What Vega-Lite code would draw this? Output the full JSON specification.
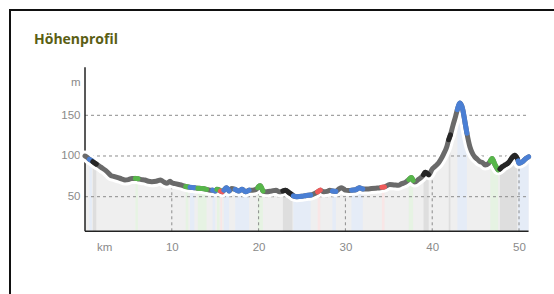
{
  "$schema": "https://vega.github.io/schema/vega-lite/v6.json",
  "autosize": "none",
  "padding": {"left": 10, "top": 10, "right": 0, "bottom": 0},
  "width": 560,
  "height": 300,
  "config": {"view": {"stroke": "#111111", "strokeWidth": 2}, "font": "Liberation Sans"},
  "datasets": {
    "profile": [
      {"km": 0.0, "elev": 100, "type": "gray", "seg": "g"},
      {"km": 0.3, "elev": 98, "type": "gray", "seg": "g"},
      {"km": 0.5, "elev": 96, "type": "blue", "seg": "s1"},
      {"km": 0.8, "elev": 94, "type": "blue", "seg": "s1"},
      {"km": 0.9, "elev": 93, "type": "black", "seg": "s2"},
      {"km": 1.3, "elev": 90, "type": "black", "seg": "s2"},
      {"km": 1.6, "elev": 88, "type": "gray", "seg": "g"},
      {"km": 2.0, "elev": 85, "type": "gray", "seg": "g"},
      {"km": 2.4, "elev": 82, "type": "gray", "seg": "g"},
      {"km": 2.7, "elev": 79, "type": "gray", "seg": "g"},
      {"km": 3.0, "elev": 76, "type": "gray", "seg": "g"},
      {"km": 3.3, "elev": 75, "type": "gray", "seg": "g"},
      {"km": 3.6, "elev": 74, "type": "gray", "seg": "g"},
      {"km": 3.9, "elev": 73, "type": "gray", "seg": "g"},
      {"km": 4.2, "elev": 72, "type": "gray", "seg": "g"},
      {"km": 4.6, "elev": 70.5, "type": "gray", "seg": "g"},
      {"km": 5.0, "elev": 71, "type": "gray", "seg": "g"},
      {"km": 5.4, "elev": 72.5, "type": "gray", "seg": "g"},
      {"km": 5.8, "elev": 72.5, "type": "green", "seg": "s3"},
      {"km": 6.1, "elev": 72, "type": "green", "seg": "s3"},
      {"km": 6.5, "elev": 71, "type": "gray", "seg": "g"},
      {"km": 6.9, "elev": 70.5, "type": "gray", "seg": "g"},
      {"km": 7.3, "elev": 69, "type": "gray", "seg": "g"},
      {"km": 7.7, "elev": 68.5, "type": "gray", "seg": "g"},
      {"km": 8.2, "elev": 69, "type": "gray", "seg": "g"},
      {"km": 8.7, "elev": 70.5, "type": "gray", "seg": "g"},
      {"km": 9.1, "elev": 68, "type": "gray", "seg": "g"},
      {"km": 9.45, "elev": 66.5, "type": "gray", "seg": "g"},
      {"km": 9.8, "elev": 69, "type": "gray", "seg": "g"},
      {"km": 10.0, "elev": 67, "type": "gray", "seg": "g"},
      {"km": 10.4, "elev": 66, "type": "gray", "seg": "g"},
      {"km": 10.8, "elev": 65, "type": "gray", "seg": "g"},
      {"km": 11.2, "elev": 64, "type": "gray", "seg": "g"},
      {"km": 11.6, "elev": 62.5, "type": "green", "seg": "s4"},
      {"km": 11.9, "elev": 62, "type": "green", "seg": "s4"},
      {"km": 12.1, "elev": 61.5, "type": "blue", "seg": "s5"},
      {"km": 12.6, "elev": 61, "type": "blue", "seg": "s5"},
      {"km": 13.0, "elev": 60.5, "type": "green", "seg": "s6"},
      {"km": 13.5, "elev": 60, "type": "green", "seg": "s6"},
      {"km": 14.0, "elev": 59, "type": "green", "seg": "s6"},
      {"km": 14.4, "elev": 58, "type": "gray", "seg": "g"},
      {"km": 14.7, "elev": 58, "type": "blue", "seg": "s7"},
      {"km": 15.0, "elev": 57, "type": "blue", "seg": "s7"},
      {"km": 15.2, "elev": 59, "type": "green", "seg": "s8"},
      {"km": 15.5, "elev": 58, "type": "green", "seg": "s8"},
      {"km": 15.6, "elev": 57, "type": "red", "seg": "s9"},
      {"km": 15.8, "elev": 56, "type": "red", "seg": "s9"},
      {"km": 16.0, "elev": 58, "type": "blue", "seg": "s10"},
      {"km": 16.3, "elev": 61, "type": "blue", "seg": "s10"},
      {"km": 16.6, "elev": 57, "type": "blue", "seg": "s10"},
      {"km": 16.9, "elev": 60, "type": "gray", "seg": "g"},
      {"km": 17.3, "elev": 59, "type": "blue", "seg": "s11"},
      {"km": 17.7, "elev": 57, "type": "blue", "seg": "s11"},
      {"km": 18.1, "elev": 59, "type": "blue", "seg": "s11"},
      {"km": 18.5, "elev": 56, "type": "blue", "seg": "s11"},
      {"km": 18.9, "elev": 58, "type": "blue", "seg": "s11"},
      {"km": 19.3, "elev": 58, "type": "gray", "seg": "g"},
      {"km": 19.7, "elev": 59, "type": "gray", "seg": "g"},
      {"km": 19.9, "elev": 61, "type": "green", "seg": "s12"},
      {"km": 20.0, "elev": 62.5, "type": "green", "seg": "s12"},
      {"km": 20.2, "elev": 63.5, "type": "green", "seg": "s12"},
      {"km": 20.5, "elev": 57, "type": "green", "seg": "s12"},
      {"km": 20.9, "elev": 56, "type": "gray", "seg": "g"},
      {"km": 21.5, "elev": 57, "type": "gray", "seg": "g"},
      {"km": 22.0, "elev": 58, "type": "gray", "seg": "g"},
      {"km": 22.4, "elev": 56, "type": "gray", "seg": "g"},
      {"km": 22.8, "elev": 57, "type": "black", "seg": "s13"},
      {"km": 23.1, "elev": 58, "type": "black", "seg": "s13"},
      {"km": 23.5, "elev": 55, "type": "black", "seg": "s13"},
      {"km": 23.9, "elev": 52, "type": "black", "seg": "s13"},
      {"km": 24.0, "elev": 51, "type": "blue", "seg": "s14"},
      {"km": 24.4, "elev": 50, "type": "blue", "seg": "s14"},
      {"km": 25.0, "elev": 50.5, "type": "blue", "seg": "s14"},
      {"km": 25.5, "elev": 51.5, "type": "blue", "seg": "s14"},
      {"km": 26.0, "elev": 52, "type": "blue", "seg": "s14"},
      {"km": 26.4, "elev": 53.5, "type": "gray", "seg": "g"},
      {"km": 26.8, "elev": 56, "type": "red", "seg": "s15"},
      {"km": 27.1, "elev": 58, "type": "red", "seg": "s15"},
      {"km": 27.5, "elev": 56, "type": "gray", "seg": "g"},
      {"km": 27.9, "elev": 56.5, "type": "gray", "seg": "g"},
      {"km": 28.2, "elev": 58, "type": "gray", "seg": "g"},
      {"km": 28.5, "elev": 57, "type": "blue", "seg": "s16"},
      {"km": 28.9, "elev": 56.5, "type": "blue", "seg": "s16"},
      {"km": 29.2, "elev": 59, "type": "gray", "seg": "g"},
      {"km": 29.5, "elev": 61, "type": "gray", "seg": "g"},
      {"km": 29.8, "elev": 59.5, "type": "gray", "seg": "g"},
      {"km": 30.0, "elev": 58, "type": "gray", "seg": "g"},
      {"km": 30.4, "elev": 57.5, "type": "gray", "seg": "g"},
      {"km": 30.7, "elev": 58, "type": "blue", "seg": "s17"},
      {"km": 31.2, "elev": 58.5, "type": "blue", "seg": "s17"},
      {"km": 31.6, "elev": 61, "type": "blue", "seg": "s17"},
      {"km": 32.0, "elev": 59.5, "type": "blue", "seg": "s17"},
      {"km": 32.5, "elev": 59.5, "type": "gray", "seg": "g"},
      {"km": 33.0, "elev": 60, "type": "gray", "seg": "g"},
      {"km": 33.5, "elev": 60.5, "type": "gray", "seg": "g"},
      {"km": 34.0, "elev": 61, "type": "gray", "seg": "g"},
      {"km": 34.2, "elev": 61.5, "type": "red", "seg": "s18"},
      {"km": 34.5, "elev": 62, "type": "red", "seg": "s18"},
      {"km": 35.1, "elev": 65, "type": "gray", "seg": "g"},
      {"km": 35.6, "elev": 64.5, "type": "gray", "seg": "g"},
      {"km": 36.1, "elev": 64, "type": "gray", "seg": "g"},
      {"km": 36.5, "elev": 66, "type": "gray", "seg": "g"},
      {"km": 36.9, "elev": 67.5, "type": "gray", "seg": "g"},
      {"km": 37.3, "elev": 71, "type": "green", "seg": "s19"},
      {"km": 37.6, "elev": 73.5, "type": "green", "seg": "s19"},
      {"km": 37.8, "elev": 70, "type": "green", "seg": "s19"},
      {"km": 38.0, "elev": 68, "type": "gray", "seg": "g"},
      {"km": 38.4, "elev": 71, "type": "gray", "seg": "g"},
      {"km": 38.8, "elev": 74.5, "type": "gray", "seg": "g"},
      {"km": 39.0, "elev": 77, "type": "black", "seg": "s20"},
      {"km": 39.2, "elev": 80, "type": "black", "seg": "s20"},
      {"km": 39.6, "elev": 77, "type": "black", "seg": "s20"},
      {"km": 40.0, "elev": 84, "type": "gray", "seg": "g"},
      {"km": 40.3, "elev": 87, "type": "gray", "seg": "g"},
      {"km": 40.7, "elev": 91, "type": "gray", "seg": "g"},
      {"km": 41.0, "elev": 96, "type": "gray", "seg": "g"},
      {"km": 41.3, "elev": 102, "type": "gray", "seg": "g"},
      {"km": 41.7, "elev": 112, "type": "gray", "seg": "g"},
      {"km": 41.9, "elev": 120, "type": "black", "seg": "s21"},
      {"km": 42.1, "elev": 126, "type": "black", "seg": "s21"},
      {"km": 42.4, "elev": 138, "type": "gray", "seg": "g"},
      {"km": 42.7, "elev": 149, "type": "gray", "seg": "g"},
      {"km": 42.9, "elev": 157, "type": "blue", "seg": "s22"},
      {"km": 43.2, "elev": 165, "type": "blue", "seg": "s22"},
      {"km": 43.5, "elev": 158, "type": "blue", "seg": "s22"},
      {"km": 43.8, "elev": 140, "type": "blue", "seg": "s22"},
      {"km": 44.0, "elev": 128, "type": "blue", "seg": "s22"},
      {"km": 44.35, "elev": 111, "type": "gray", "seg": "g"},
      {"km": 44.7, "elev": 102, "type": "gray", "seg": "g"},
      {"km": 44.9, "elev": 99, "type": "gray", "seg": "g"},
      {"km": 45.2, "elev": 96, "type": "gray", "seg": "g"},
      {"km": 45.5, "elev": 93, "type": "gray", "seg": "g"},
      {"km": 45.8, "elev": 92, "type": "gray", "seg": "g"},
      {"km": 46.1, "elev": 89, "type": "gray", "seg": "g"},
      {"km": 46.5, "elev": 91, "type": "gray", "seg": "g"},
      {"km": 46.7, "elev": 94, "type": "green", "seg": "s23"},
      {"km": 46.9, "elev": 97, "type": "green", "seg": "s23"},
      {"km": 47.2, "elev": 90, "type": "green", "seg": "s23"},
      {"km": 47.6, "elev": 83, "type": "green", "seg": "s23"},
      {"km": 47.8, "elev": 84, "type": "black", "seg": "s24"},
      {"km": 48.1, "elev": 87, "type": "black", "seg": "s24"},
      {"km": 48.4, "elev": 89, "type": "black", "seg": "s24"},
      {"km": 48.8, "elev": 92, "type": "black", "seg": "s24"},
      {"km": 49.2, "elev": 98, "type": "black", "seg": "s24"},
      {"km": 49.5, "elev": 101, "type": "black", "seg": "s24"},
      {"km": 49.8, "elev": 97, "type": "black", "seg": "s24"},
      {"km": 49.9, "elev": 94, "type": "blue", "seg": "s25"},
      {"km": 50.0, "elev": 91, "type": "blue", "seg": "s25"},
      {"km": 50.4, "elev": 93, "type": "blue", "seg": "s25"},
      {"km": 50.8, "elev": 97, "type": "blue", "seg": "s25"},
      {"km": 51.1, "elev": 99, "type": "blue", "seg": "s25"}
    ],
    "grid": [{"v": 50}, {"v": 100}, {"v": 150}]
  },
  "layer": [
    {
      "data": {"name": "profile"},
      "mark": {"type": "area", "color": "#efefef", "interpolate": "monotone"},
      "encoding": {
        "x": {"field": "km", "type": "quantitative", "title": null,
          "scale": {"domain": [-8.641, 55.875], "nice": false, "zero": false},
          "axis": {"values": [2.2, 10, 20, 30, 40, 50], "labelExpr": "datum.value == 2.2 ? 'km' : datum.label",
            "offset": -79, "domain": false, "ticks": false, "grid": false, "labelColor": "#8a8a8a",
            "labelFontSize": 11.5, "labelPadding": 10, "labelFlush": false, "labelOverlap": false, "labelBound": false, "title": null}},
        "y": {"field": "elev", "type": "quantitative", "title": null,
          "scale": {"domain": [-89.19, 279.36], "nice": false, "zero": false},
          "axis": {"values": [50, 100, 150, 190], "labelExpr": "datum.value == 190 ? 'm' : datum.label",
            "offset": -75, "domain": false, "ticks": false, "grid": false, "labelColor": "#8a8a8a",
            "labelFontSize": 11.5, "labelPadding": 5, "labelFlush": false, "labelOverlap": false, "labelBound": false, "title": null}},
        "y2": {"datum": 7.5, "type": "quantitative"}
      }
    },
    {
      "data": {"name": "profile"},
      "transform": [{"filter": "datum.type != 'gray'"}],
      "mark": {"type": "area", "interpolate": "monotone"},
      "encoding": {
        "x": {"field": "km", "type": "quantitative", "title": null},
        "y": {"field": "elev", "type": "quantitative", "title": null, "stack": null},
        "y2": {"datum": 7.5, "type": "quantitative"},
        "detail": {"field": "seg", "type": "nominal"},
        "color": {"field": "type", "type": "nominal", "legend": null,
          "scale": {"domain": ["blue", "green", "red", "black"], "range": ["#e5ecf7", "#e6f3e3", "#f9e6e6", "#dedede"]}}
      }
    },
    {
      "data": {"name": "grid"},
      "mark": {"type": "rule", "color": "#8c8c8c", "strokeDash": [3, 3], "strokeWidth": 1},
      "encoding": {
        "y": {"field": "v", "type": "quantitative", "title": null},
        "x": {"datum": 0, "type": "quantitative"},
        "x2": {"datum": 51.1, "type": "quantitative"}
      }
    },
    {
      "data": {"name": "profile"},
      "transform": [{"filter": {"field": "km", "oneOf": [10, 20, 30, 40, 50]}}],
      "mark": {"type": "rule", "color": "#8c8c8c", "strokeDash": [3, 3], "strokeWidth": 1},
      "encoding": {
        "x": {"field": "km", "type": "quantitative", "title": null},
        "y": {"datum": 7.5, "type": "quantitative"},
        "y2": {"field": "elev", "type": "quantitative"}
      }
    },
    {
      "data": {"values": [{}]},
      "mark": {"type": "rule", "color": "#222222", "strokeWidth": 1.5},
      "encoding": {"x": {"datum": 0, "type": "quantitative"}, "x2": {"datum": 51.1, "type": "quantitative"}, "y": {"datum": 7.5, "type": "quantitative"}}
    },
    {
      "data": {"values": [{}]},
      "mark": {"type": "rule", "color": "#222222", "strokeWidth": 1.5},
      "encoding": {"x": {"datum": 0, "type": "quantitative"}, "y": {"datum": 7.5, "type": "quantitative"}, "y2": {"datum": 209, "type": "quantitative"}}
    },
    {
      "data": {"name": "profile"},
      "mark": {"type": "line", "color": "#ffffff", "strokeWidth": 11, "interpolate": "monotone", "strokeCap": "round", "strokeJoin": "round"},
      "encoding": {
        "x": {"field": "km", "type": "quantitative", "title": null},
        "y": {"field": "elev", "type": "quantitative", "title": null}
      }
    },
    {
      "data": {"name": "profile"},
      "mark": {"type": "line", "color": "#6a6a6a", "strokeWidth": 5, "interpolate": "monotone", "strokeCap": "round", "strokeJoin": "round"},
      "encoding": {
        "x": {"field": "km", "type": "quantitative", "title": null},
        "y": {"field": "elev", "type": "quantitative", "title": null}
      }
    },
    {
      "data": {"name": "profile"},
      "transform": [{"filter": "datum.type != 'gray'"}],
      "mark": {"type": "line", "strokeWidth": 5, "interpolate": "monotone", "strokeCap": "round", "strokeJoin": "round"},
      "encoding": {
        "x": {"field": "km", "type": "quantitative", "title": null},
        "y": {"field": "elev", "type": "quantitative", "title": null},
        "detail": {"field": "seg", "type": "nominal"},
        "stroke": {"field": "type", "type": "nominal", "legend": null,
          "scale": {"domain": ["blue", "green", "red", "black"], "range": ["#4a7fd4", "#57b64a", "#f05a5a", "#262626"]}}
      }
    },
    {
      "data": {"values": [{}]},
      "mark": {"type": "text", "text": "Höhenprofil", "font": "Open Sans", "fontWeight": "bold", "fontSize": 14, "color": "#5a5e14", "align": "left", "baseline": "middle"},
      "encoding": {"x": {"datum": -5.876, "type": "quantitative"}, "y": {"datum": 242.5, "type": "quantitative"}}
    }
  ]
}
